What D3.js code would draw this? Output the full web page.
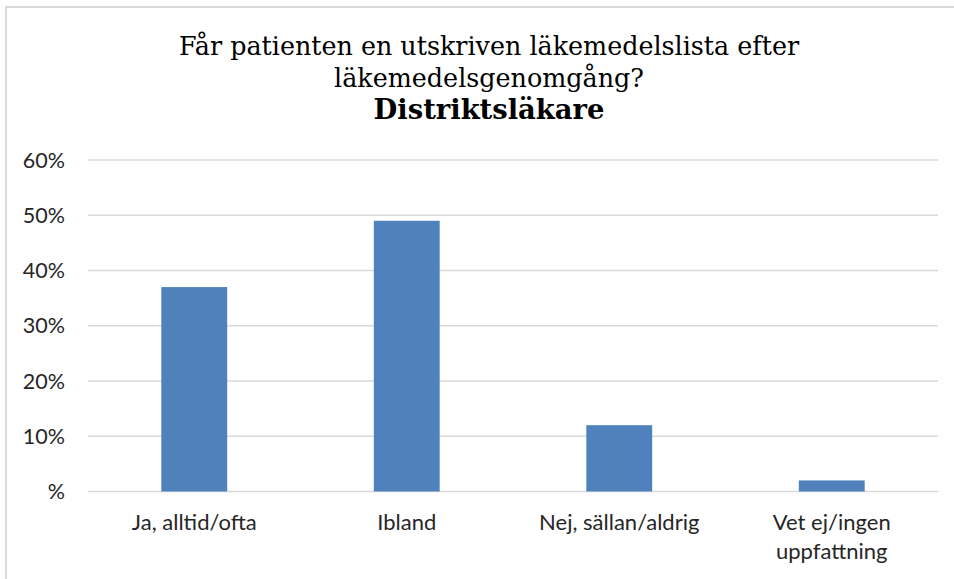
<!DOCTYPE html>
<meta charset="utf-8">
<script src="https://d3js.org/d3.v7.min.js"></script>
<style>
  body { margin: 0; background: #fff; }
  svg { display: block; }
</style>
<svg id="chart"></svg>
<script>

// data
const categories = ["Ja, alltid/ofta", "Ibland", "Nej, sällan/aldrig", "Vet ej/ingen uppfattning"];
const values = [0.37, 0.49, 0.12, 0.02];
const yTicks = [0, 0.1, 0.2, 0.3, 0.4, 0.5, 0.6];
const yTickLabels = ["%", "10%", "20%", "30%", "40%", "50%", "60%"];
const titleLines = ["Får patienten en utskriven läkemedelslista efter", "läkemedelsgenomgång?"];
const subtitle = "Distriktsläkare";

const width = 954, height = 579;
const svg = d3.select("#chart").attr("width", width).attr("height", height);

// frame of the chart (runs off the right and bottom)
svg.append("rect")
    .attr("x", 6).attr("y", 7)
    .attr("width", 960).attr("height", 600)
    .attr("fill", "none")
    .attr("stroke", "#d9d9d9")
    .attr("stroke-width", 2);

const plot = { left: 88, right: 938, top: 160, bottom: 491.5 };

const x = d3.scaleBand()
    .domain(categories)
    .range([plot.left, plot.right])
    .paddingInner(0.69)
    .paddingOuter(0.345);

const y = d3.scaleLinear()
    .domain([0, 0.6])
    .range([plot.bottom, plot.top]);

const labelFont = "Lato, sans-serif";
const labelSize = 22;
const labelColor = "#262626";

// gridlines
svg.append("g")
  .selectAll("line")
  .data(yTicks)
  .join("line")
    .attr("x1", plot.left).attr("x2", plot.right)
    .attr("y1", d => y(d)).attr("y2", d => y(d))
    .attr("stroke", "#d9d9d9")
    .attr("stroke-width", 1.5);

// y labels
svg.append("g")
  .selectAll("text")
  .data(yTicks)
  .join("text")
    .attr("x", 65)
    .attr("y", d => y(d))
    .attr("dy", "0.36em")
    .attr("text-anchor", "end")
    .attr("font-family", labelFont)
    .attr("font-size", 21.5)
    .attr("fill", labelColor)
    .text((d, i) => yTickLabels[i]);

// bars
svg.append("g")
  .selectAll("rect")
  .data(values)
  .join("rect")
    .attr("x", (d, i) => x(categories[i]))
    .attr("width", x.bandwidth())
    .attr("y", d => y(d))
    .attr("height", d => y(0) - y(d))
    .attr("fill", "#4f81bd");

// x labels, last one wraps over two lines
const xLab = svg.append("g")
  .selectAll("text")
  .data(categories)
  .join("text")
    .attr("x", d => x(d) + x.bandwidth() / 2)
    .attr("y", 530)
    .attr("text-anchor", "middle")
    .attr("font-family", labelFont)
    .attr("font-size", labelSize)
    .attr("fill", labelColor);

xLab.each(function(d) {
  const parts = d === "Vet ej/ingen uppfattning" ? ["Vet ej/ingen", "uppfattning"] : [d];
  const t = d3.select(this);
  parts.forEach((p, k) => {
    t.append("tspan")
      .attr("x", x(d) + x.bandwidth() / 2)
      .attr("dy", k === 0 ? 0 : 29)
      .text(p);
  });
});

// title
const titleX = 489;
const titleFont = "'DejaVu Serif', serif";
titleLines.forEach((line, i) => {
  svg.append("text")
    .attr("x", titleX)
    .attr("y", 55 + i * 32)
    .attr("text-anchor", "middle")
    .attr("font-family", titleFont)
    .attr("font-size", 25.4)
    .attr("fill", "#000")
    .text(line);
});

svg.append("text")
    .attr("x", titleX)
    .attr("y", 119)
    .attr("text-anchor", "middle")
    .attr("font-family", titleFont)
    .attr("font-size", 27.4)
    .attr("font-weight", "bold")
    .attr("fill", "#000")
    .text(subtitle);

</script>
